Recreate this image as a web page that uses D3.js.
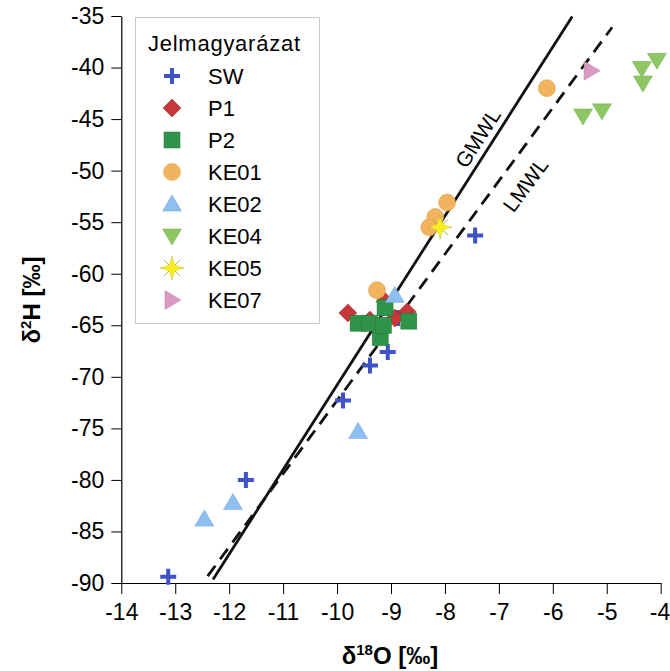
<!DOCTYPE html>
<html>
<head>
<meta charset="utf-8">
<script src="https://cdn.jsdelivr.net/npm/d3@7"></script>
<style>
  body { margin: 0; background: #fff; }
  text { font-family: 'Liberation Sans', Arial, sans-serif; }
</style>
</head>
<body>
<svg id="container" width="670" height="671"></svg>
<script>
const xTicks = [-14, -13, -12, -11, -10, -9, -8, -7, -6, -5, -4]
const yTicks = [-35, -40, -45, -50, -55, -60, -65, -70, -75, -80, -85, -90]

const seriesNames = ['SW', 'P1', 'P2', 'KE01', 'KE02', 'KE04', 'KE05', 'KE07']
const SW = [[-13.13, -89.4], [-11.69, -80.0], [-9.89, -72.3], [-9.39, -68.9], [-9.06, -67.6], [-7.44, -56.3], [-8.87, -64.3]]
const P1 = [[-9.80, -63.8], [-9.39, -64.5], [-9.11, -62.7], [-8.93, -64.3], [-8.70, -63.7]]
const P2 = [[-9.61, -64.8], [-9.40, -64.8], [-9.20, -66.2], [-9.11, -63.3], [-9.14, -65.0], [-8.67, -64.6]]
const KE01 = [[-9.26, -61.6], [-7.96, -53.1], [-8.18, -54.5], [-8.29, -55.5], [-6.11, -42.0]]
const KE02 = [[-8.93, -62.1], [-9.61, -75.3], [-11.93, -82.2], [-12.46, -83.8]]
const KE04 = [[-5.44, -44.7], [-5.09, -44.2], [-4.35, -40.1], [-4.07, -39.3], [-4.33, -41.5]]
const KE05 = [[-8.09, -55.5]]
const KE07 = [[-5.29, -40.3]]

// water lines: [slope, intercept, x start, x end]
const GMWL = [8.2, 11.2, -12.3, -5.64]
const LMWL = [7.1, -1.3, -12.4, -4.9]

const svg = d3.select('#container')
const xScale = d3.scaleLinear().domain([-14, -4]).range([121.3, 660.7])
const yScale = d3.scaleLinear().domain([-90, -35]).range([583, 16])

const colors = {
  SW: '#3f52c8', P1: '#c8383a', P2: '#2f9349', KE01: '#f1b35e',
  KE02: '#8dbff1', KE04: '#8dc662', KE05: '#f7ef1e', KE07: '#d99bc1'
}

// marker shapes
const drawMarker = (g, name) => {
  const c = colors[name]
  if (name === 'SW') {
    g.append('path').attr('d', 'M-8,0H8M0,-8V8').attr('stroke', c).attr('stroke-width', 4).attr('fill', 'none')
  } else if (name === 'P1') {
    g.append('path').attr('d', 'M0,-9L9,0L0,9L-9,0Z').attr('fill', c).attr('stroke', '#a02a2c').attr('stroke-width', 0.5)
  } else if (name === 'P2') {
    g.append('rect').attr('x', -8).attr('y', -8).attr('width', 16).attr('height', 16).attr('fill', c).attr('stroke', '#247538').attr('stroke-width', 0.5)
  } else if (name === 'KE01') {
    g.append('circle').attr('r', 8.5).attr('fill', c).attr('stroke', '#d99a48').attr('stroke-width', 0.5)
  } else if (name === 'KE02') {
    g.append('path').attr('d', 'M0,-9L9.5,7L-9.5,7Z').attr('fill', c).attr('stroke', '#6fa3d8').attr('stroke-width', 0.5)
  } else if (name === 'KE04') {
    g.append('path').attr('d', 'M0,9L9.5,-7L-9.5,-7Z').attr('fill', c).attr('stroke', '#72ab4a').attr('stroke-width', 0.5)
  } else if (name === 'KE05') {
    g.append('path').attr('d', 'M-12,0H12M0,-12V12M-8,-8L8,8M-8,8L8,-8').attr('stroke', '#b5ad3a').attr('stroke-width', 1)
    g.append('path').attr('d', 'M0,-10L3,-3L10,0L3,3L0,10L-3,3L-10,0L-3,-3Z').attr('fill', c).attr('stroke', '#d8cf20').attr('stroke-width', 0.5)
  } else if (name === 'KE07') {
    g.append('path').attr('d', 'M9,0L-7,-9.5L-7,9.5Z').attr('fill', c).attr('stroke', '#bf7ea5').attr('stroke-width', 0.5)
  }
}

// axes (plain hyphen in labels, as in the original)
const fmt = (d) => String(d)
const xAxis = d3.axisBottom(xScale).tickValues(xTicks).tickSize(11).tickSizeOuter(0).tickFormat(fmt)
const xMinor = d3.axisBottom(xScale).tickValues(d3.range(-14, -3.99, 0.2)).tickSize(6).tickSizeOuter(0).tickFormat('')
const yAxis = d3.axisLeft(yScale).tickValues(yTicks).tickSize(10).tickSizeOuter(0).tickFormat(fmt)
const yMinor = d3.axisLeft(yScale).tickValues(d3.range(-90, -34.99, 1)).tickSize(6).tickSizeOuter(0).tickFormat('')

const gx = svg.append('g').attr('transform', 'translate(0,583)')
gx.call(xMinor)
gx.call(xAxis)
const gy = svg.append('g').attr('transform', 'translate(121.3,0)')
gy.call(yMinor)
gy.call(yAxis)

svg.selectAll('.domain').attr('stroke', '#000').attr('stroke-width', 1.2)
svg.selectAll('.tick line').attr('stroke', '#000').attr('stroke-width', 1)
svg.selectAll('.tick text')
  .attr('font-size', 23)
  .attr('font-family', "'Liberation Sans', Arial, sans-serif")
  .attr('fill', '#000')
gx.selectAll('.tick text').attr('dy', '1.0em')
gx.selectAll('.tick text').filter((d) => d === -4).attr('text-anchor', 'end').attr('x', 9)
gy.selectAll('.tick text').attr('x', -17)

// axis titles
const xt = svg.append('text').attr('x', 390).attr('y', 664).attr('text-anchor', 'middle')
  .attr('font-size', 24).attr('font-weight', 'bold')
xt.append('tspan').text('δ')
xt.append('tspan').attr('font-size', 15).attr('dy', -9).text('18')
xt.append('tspan').attr('dy', 9).text('O [‰]')

const yt = svg.append('text').attr('transform', 'translate(40,300) rotate(-90)').attr('text-anchor', 'middle')
  .attr('font-size', 24).attr('font-weight', 'bold')
yt.append('tspan').text('δ')
yt.append('tspan').attr('font-size', 15).attr('dy', -9).text('2')
yt.append('tspan').attr('dy', 9).text('H [‰]')

// meteoric water lines
const mwl = (l) => [[l[2], l[0] * l[2] + l[1]], [l[3], l[0] * l[3] + l[1]]]
const line = d3.line().x((d) => xScale(d[0])).y((d) => yScale(d[1]))
svg.append('path').datum(mwl(GMWL)).attr('d', line)
  .attr('stroke', '#111').attr('stroke-width', 2.8).attr('fill', 'none')
svg.append('path').datum(mwl(LMWL)).attr('d', line)
  .attr('stroke', '#111').attr('stroke-width', 2.8).attr('fill', 'none').attr('stroke-dasharray', '13,8')

const angle = (l) => -Math.atan(l[0] * (yScale(-90) - yScale(-89)) / (xScale(-13) - xScale(-14))) * 180 / Math.PI
svg.append('text').attr('transform', `translate(${xScale(-7.2) - 4},${yScale(-47.6) - 4}) rotate(${angle(GMWL)})`)
  .attr('text-anchor', 'middle').attr('font-size', 21).text('GMWL')
svg.append('text').attr('transform', `translate(${xScale(-6.8) + 10},${yScale(-49.6) + 14}) rotate(${angle(LMWL)})`)
  .attr('text-anchor', 'middle').attr('font-size', 21).attr('dy', '0.7em').text('LMWL')

// points
const seriesData = { SW, P1, P2, KE01, KE02, KE04, KE05, KE07 }
seriesNames.forEach((name) => {
  svg.append('g').selectAll('g')
    .data(seriesData[name])
    .enter()
    .append('g')
    .attr('transform', (d) => `translate(${xScale(d[0])},${yScale(d[1])})`)
    .each(function () { drawMarker(d3.select(this), name) })
})

// legend
const legend = svg.append('g')
legend.append('rect').attr('x', 135.5).attr('y', 17.5).attr('width', 184).attr('height', 306)
  .attr('fill', '#fff').attr('stroke', '#c8c8c8').attr('stroke-width', 1)
legend.append('text').attr('x', 148).attr('y', 51).attr('font-size', 22).attr('textLength', 152).text('Jelmagyarázat')
seriesNames.forEach((name, i) => {
  const row = legend.append('g').attr('transform', `translate(172,${76 + i * 32})`)
  drawMarker(row, name)
  row.append('text').attr('x', 36).attr('y', 0).attr('dy', '0.36em').attr('font-size', 22).text(name)
})
</script>
</body>
</html>
